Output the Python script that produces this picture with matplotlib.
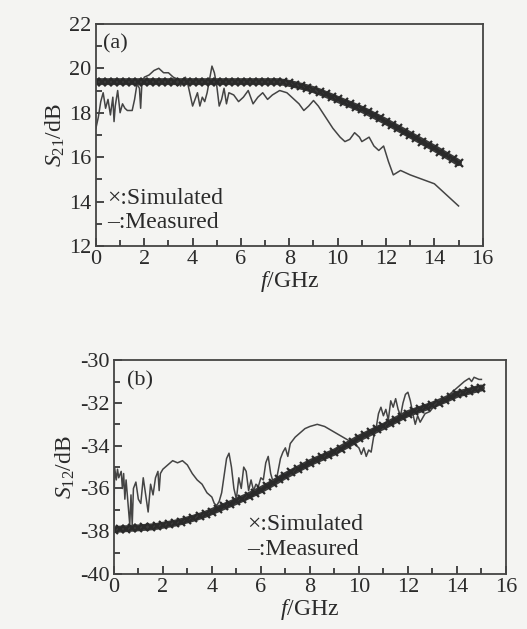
import numpy as np
import matplotlib.pyplot as plt
from matplotlib.ticker import MultipleLocator

plt.rcParams['font.family'] = ['Liberation Serif', 'DejaVu Serif']
plt.rcParams['mathtext.fontset'] = 'custom'
plt.rcParams['mathtext.rm'] = 'Liberation Serif'
plt.rcParams['mathtext.it'] = 'Liberation Serif:italic'
plt.rcParams['axes.unicode_minus'] = False

# simulated curves, 0.25 GHz steps
f_sim = np.arange(0, 15.01, 0.25)
s21_sim = [19.4] * 31 + [19.37, 19.32, 19.26, 19.19, 19.12, 19.04, 18.94, 18.83, 18.72, 18.6,
                         18.49, 18.38, 18.27, 18.15, 18.02, 17.88, 17.74, 17.6, 17.45, 17.3,
                         17.15, 17.0, 16.85, 16.7, 16.55, 16.4, 16.24, 16.08, 15.92, 15.75]
s12_sim = [-37.93, -37.9, -37.88, -37.86, -37.84, -37.82, -37.8, -37.77, -37.72, -37.67,
           -37.62, -37.55, -37.47, -37.39, -37.3, -37.2, -37.08, -36.96, -36.84, -36.72,
           -36.6, -36.47, -36.34, -36.2, -36.06, -35.9, -35.74, -35.57, -35.4, -35.25,
           -35.1, -34.95, -34.8, -34.67, -34.55, -34.42, -34.3, -34.14, -33.98, -33.82,
           -33.65, -33.51, -33.37, -33.23, -33.1, -32.95, -32.8, -32.65, -32.5, -32.4,
           -32.3, -32.2, -32.1, -31.98, -31.86, -31.73, -31.6, -31.52, -31.45, -31.37, -31.3]

# measured S21
f21_meas = [0.0, 0.1, 0.2, 0.3, 0.4, 0.5, 0.6, 0.7, 0.75, 0.8, 0.9, 1.0, 1.1, 1.2, 1.3, 1.4,
            1.5, 1.6, 1.7, 1.8, 1.85, 1.9, 2.0, 2.2, 2.4, 2.6, 2.8, 3.0, 3.2, 3.4, 3.5, 3.6,
            3.7, 3.8, 3.9, 4.0, 4.1, 4.2, 4.3, 4.4, 4.5, 4.6, 4.7, 4.8, 4.9, 5.0, 5.1, 5.2,
            5.3, 5.4, 5.5, 5.7, 5.9, 6.1, 6.3, 6.5, 6.7, 6.9, 7.1, 7.3, 7.6, 7.9, 8.2, 8.4,
            8.6, 8.8, 9.0, 9.2, 9.5, 9.8, 10.1, 10.3, 10.5, 10.7, 10.9, 11.0, 11.3, 11.5,
            11.7, 11.9, 12.1, 12.3, 12.6, 13.0, 13.5, 14.0, 14.4, 14.7, 15.0]
s21_meas = [17.3, 17.8, 18.5, 18.9, 18.2, 18.6, 17.9, 18.7, 17.6, 18.3, 19.0, 18.0, 18.4,
            18.2, 18.1, 18.1, 18.1, 18.6, 19.3, 19.1, 18.2, 19.3, 19.6, 19.7, 19.9, 20.0,
            19.8, 19.8, 19.6, 19.5, 19.2, 19.5, 19.6, 19.3, 18.8, 18.3, 18.6, 18.9, 18.3,
            18.7, 18.5, 18.9, 19.5, 20.1, 19.8, 19.2, 18.3, 18.6, 19.1, 18.4, 18.9, 18.8,
            18.5, 18.7, 19.0, 18.4, 18.7, 18.9, 18.6, 18.8, 19.0, 18.9, 18.6, 18.4, 18.1,
            18.3, 18.55, 18.3, 17.8, 17.3, 16.9, 16.7, 16.8, 17.1, 16.9, 16.7, 16.9, 16.5,
            16.3, 16.5, 15.8, 15.2, 15.4, 15.2, 15.0, 14.8, 14.4, 14.1, 13.8]

# measured S12
f12_meas = [0.0, 0.03, 0.1, 0.15, 0.2, 0.3, 0.35, 0.4, 0.45, 0.5, 0.6, 0.65, 0.7, 0.75, 0.8,
            0.9, 1.0, 1.1, 1.2, 1.3, 1.4, 1.5, 1.6, 1.7, 1.8, 1.85, 1.9, 2.0, 2.2, 2.4, 2.6,
            2.8, 3.0, 3.2, 3.4, 3.6, 3.8, 4.0, 4.1, 4.2, 4.3, 4.4, 4.5, 4.6, 4.7, 4.8, 4.9,
            5.0, 5.1, 5.2, 5.3, 5.4, 5.5, 5.6, 5.7, 5.8, 5.9, 6.0, 6.1, 6.2, 6.3, 6.4, 6.5,
            6.6, 6.7, 6.8, 6.9, 7.0, 7.1, 7.2, 7.4, 7.6, 7.8, 8.0, 8.3, 8.6, 8.9, 9.2, 9.5,
            9.8, 10.0, 10.1, 10.2, 10.3, 10.4, 10.5, 10.6, 10.7, 10.8, 10.9, 11.0, 11.1, 11.2,
            11.3, 11.4, 11.5, 11.6, 11.7, 11.8, 11.9, 12.0, 12.1, 12.2, 12.3, 12.4, 12.5, 12.7,
            12.9, 13.1, 13.3, 13.5, 13.7, 13.9, 14.1, 14.3, 14.5, 14.6, 14.7, 14.9, 15.0]
s12_meas = [-37.9, -35.0, -35.6, -35.1, -35.5, -35.2, -36.0, -35.3, -36.5, -35.6, -37.0, -37.7,
            -36.3, -37.7, -36.0, -35.7, -36.5, -36.7, -35.5, -36.3, -37.1, -35.8, -36.3, -35.5,
            -35.2, -36.1, -35.3, -35.1, -34.9, -34.7, -34.8, -34.7, -34.9, -35.3, -35.6, -35.8,
            -36.2, -36.4, -36.7, -36.8, -36.6, -36.2, -35.4, -34.6, -34.35, -35.0, -36.0, -36.5,
            -35.5, -36.0, -35.0, -35.2, -36.1, -35.6, -36.1, -35.8, -35.9, -35.5, -35.6, -34.8,
            -34.5, -35.3, -35.7, -35.8, -35.2, -34.6, -34.3, -34.1, -34.5, -33.9, -33.6, -33.4,
            -33.2, -33.1, -33.0, -33.1, -33.3, -33.5, -33.7, -33.9, -34.1, -34.4, -34.1, -34.5,
            -34.2, -34.3, -33.6, -33.2, -32.5, -32.2, -32.6, -32.3, -32.8, -31.9, -32.2, -31.8,
            -32.3, -32.6, -32.0, -31.6, -31.5, -31.9, -32.5, -33.0, -32.6, -32.9, -32.5, -32.4,
            -32.1, -32.0, -31.9, -31.6, -31.4, -31.2, -31.0, -30.85, -31.0, -30.8, -30.9, -30.9]

bg = '#f4f4f2'
ink = '#2a2a2a'
fig = plt.figure(figsize=(5.27, 6.29), dpi=100, facecolor=bg)
ax1 = fig.add_axes([0.182, 0.609, 0.734, 0.353], facecolor=bg)
ax2 = fig.add_axes([0.216, 0.0874, 0.744, 0.340], facecolor=bg)


def style(ax, ylo, yhi):
    ax.set_xlim(0, 16)
    ax.set_ylim(ylo, yhi)
    ax.xaxis.set_major_locator(MultipleLocator(2))
    ax.xaxis.set_minor_locator(MultipleLocator(1))
    ax.yaxis.set_major_locator(MultipleLocator(2))
    ax.yaxis.set_minor_locator(MultipleLocator(1))
    ax.tick_params(which='both', direction='in', top=False, right=False,
                   labelsize=16, colors=ink, width=1.2, pad=3)
    ax.tick_params(which='major', length=6)
    ax.tick_params(which='minor', length=4)
    for sp in ax.spines.values():
        sp.set_linewidth(1.3)
        sp.set_color('#444444')


def draw_sim(ax, y):
    # dense crosses merge into a thick band
    ax.plot(f_sim, y, ls='-', lw=5, color='#3a3a3a', solid_capstyle='round')
    ax.plot(f_sim, y, ls='none', marker='x', ms=6, mew=1.6, color='#2a2a2a')


style(ax1, 12, 22)
ax1.plot(f21_meas, s21_meas, color='#444444', lw=1.1)
draw_sim(ax1, s21_sim)
ax1.set_ylabel('$S_{21}$/dB', fontsize=17, color=ink, labelpad=2)
ax1.set_xlabel('$f$/GHz', fontsize=17, color=ink, labelpad=0)
ax1.text(0.3, 21.1, '(a)', fontsize=16, color=ink, va='center')
ax1.text(0.45, 14.15, '×:Simulated', fontsize=17, color=ink, va='center')
ax1.text(0.45, 13.05, '–:Measured', fontsize=17, color=ink, va='center')

style(ax2, -40, -30)
ax2.plot(f12_meas, s12_meas, color='#444444', lw=1.1)
draw_sim(ax2, s12_sim)
ax2.set_ylabel('$S_{12}$/dB', fontsize=17, color=ink, labelpad=2)
ax2.set_xlabel('$f$/GHz', fontsize=17, color=ink, labelpad=0)
ax2.text(0.55, -30.95, '(b)', fontsize=16, color=ink, va='center')
ax2.text(5.45, -37.7, '×:Simulated', fontsize=17, color=ink, va='center')
ax2.text(5.45, -38.85, '–:Measured', fontsize=17, color=ink, va='center')

fig.savefig('out.png', dpi=100, facecolor=bg)
